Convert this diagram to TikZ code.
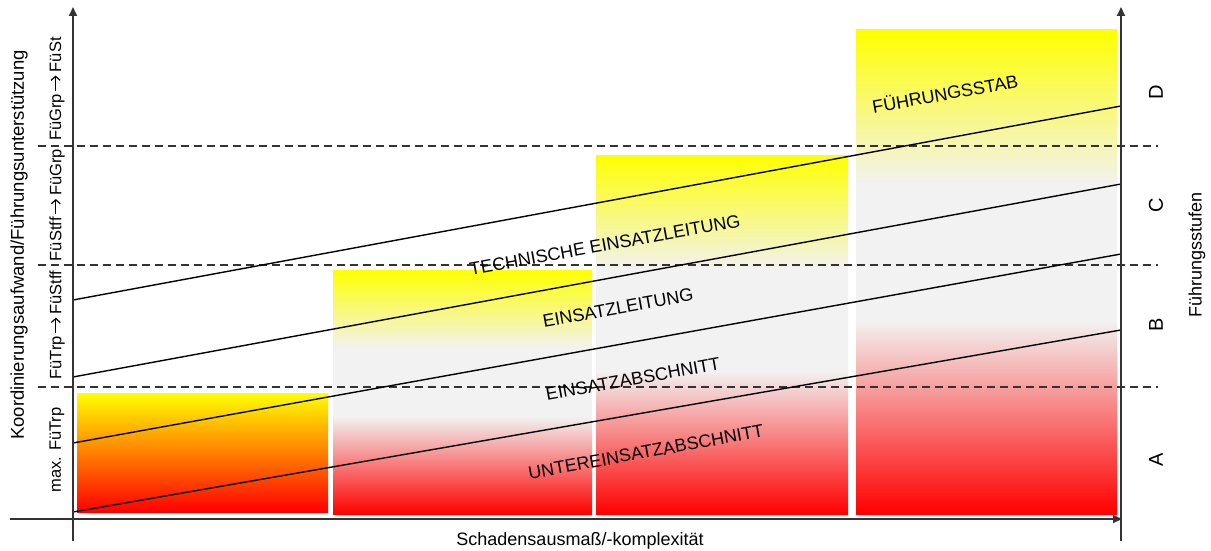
\documentclass[tikz,border=0pt]{standalone}
\usepackage{fontspec}
\setmainfont{Liberation Sans}
\usetikzlibrary{arrows.meta}
\definecolor{bargray}{HTML}{F2F2F2}
\definecolor{axisgray}{HTML}{333333}
\pgfdeclareverticalshading{barshade}{100bp}{color(0bp)=(red); color(25bp)=(red); color(45bp)=(bargray); color(59bp)=(bargray); color(75bp)=(yellow); color(100bp)=(yellow)}
\pgfdeclareverticalshading{firstbar}{100bp}{color(0bp)=(red); color(25bp)=(red); color(75bp)=(yellow); color(100bp)=(yellow)}
\newcommand{\myarrow}{\,\tikz[baseline=-0.33em, x=1pt, y=1pt]\draw[line width=1.2pt, -{Straight Barb[length=4pt,width=9pt]}] (0,0) -- (15,0);\,}
\tikzset{
  axisline/.style={draw=axisgray, line width=1.8pt, -{Triangle[length=9pt,width=8pt]}},
  dashline/.style={draw=black!80, line width=1.3pt, dash pattern=on 8pt off 5pt},
  slopeline/.style={draw=black, line width=1.4pt},
  slab/.style={font=\fontsize{18}{20}\selectfont, rotate=10.3, inner sep=0pt},
  vlab/.style={font=\fontsize{16.5}{19}\selectfont, rotate=90, inner sep=0pt},
  rlab/.style={font=\fontsize{20}{22}\selectfont, rotate=90, inner sep=0pt},
  axlab/.style={font=\fontsize{18}{20}\selectfont, inner sep=0pt},
}
\begin{document}
\begin{tikzpicture}[x=1pt,y=-1pt]
\useasboundingbox (0,0) rectangle (1211,551);
% bars
\shade[shading=firstbar] (77,393) rectangle (328,512);
\shade[shading=barshade] (333,270) rectangle (592,514);
\shade[shading=barshade] (596,155) rectangle (848,514);
\shade[shading=barshade] (856,30) rectangle (1117,514);
% dashed level lines
\coordinate (d1a) at (38,146); \coordinate (d1b) at (1158,146);
\coordinate (d2a) at (38,265); \coordinate (d2b) at (1158,265);
\coordinate (d3a) at (38,387); \coordinate (d3b) at (1158,387);
\draw[dashline] (d1a) -- (d1b);
\draw[dashline] (d2a) -- (d2b);
\draw[dashline] (d3a) -- (d3b);
% sloped lines
\coordinate (l1a) at (73,512); \coordinate (l1b) at (1121,330);
\coordinate (l2a) at (73,443); \coordinate (l2b) at (1121,254);
\coordinate (l3a) at (73,377); \coordinate (l3b) at (1121,184);
\coordinate (l4a) at (73,300); \coordinate (l4b) at (1121,106);
\draw[slopeline] (l1a) -- (l1b);
\draw[slopeline] (l2a) -- (l2b);
\draw[slopeline] (l3a) -- (l3b);
\draw[slopeline] (l4a) -- (l4b);
% axes
\coordinate (yb) at (73,541); \coordinate (yt) at (73,7);
\coordinate (rb) at (1121,541); \coordinate (rt) at (1121,7);
\coordinate (xl) at (10,519); \coordinate (xr) at (1122,519);
\draw[axisline] (yb) -- (yt);
\draw[axisline] (rb) -- (rt);
\draw[axisline] (xl) -- (xr);
% sloped labels
\node[slab] (fst) at (945,93) {FÜHRUNGSSTAB};
\node[slab] (tel) at (605,245) {TECHNISCHE EINSATZLEITUNG};
\node[slab] (el) at (618,308) {EINSATZLEITUNG};
\node[slab] (ea) at (633,379) {EINSATZABSCHNITT};
\node[slab] (uea) at (646,452) {UNTEREINSATZABSCHNITT};
% left labels
\node[axlab, rotate=90, font=\fontsize{18.5}{20}\selectfont] (ylab) at (19,245) {Koordinierungsaufwand/Führungsunterstützung};
\node[vlab] (v4) at (57,89) {FüGrp\myarrow FüSt};
\node[vlab] (v3) at (57,205) {FüStff\myarrow FüGrp};
\node[vlab] (v2) at (57,325) {FüTrp\myarrow FüStff};
\node[vlab] (v1) at (57,450) {max. FüTrp};
% right labels
\node[rlab] (rd) at (1156,92) {D};
\node[rlab] (rc) at (1156,205) {C};
\node[rlab] (rbb) at (1156,325) {B};
\node[rlab] (ra) at (1156,460) {A};
\node[axlab, rotate=90] (flab) at (1197,255) {Führungsstufen};
% bottom label
\node[axlab] (xlab) at (580,541) {Schadensausmaß/-komplexität};
\end{tikzpicture}
\end{document}
